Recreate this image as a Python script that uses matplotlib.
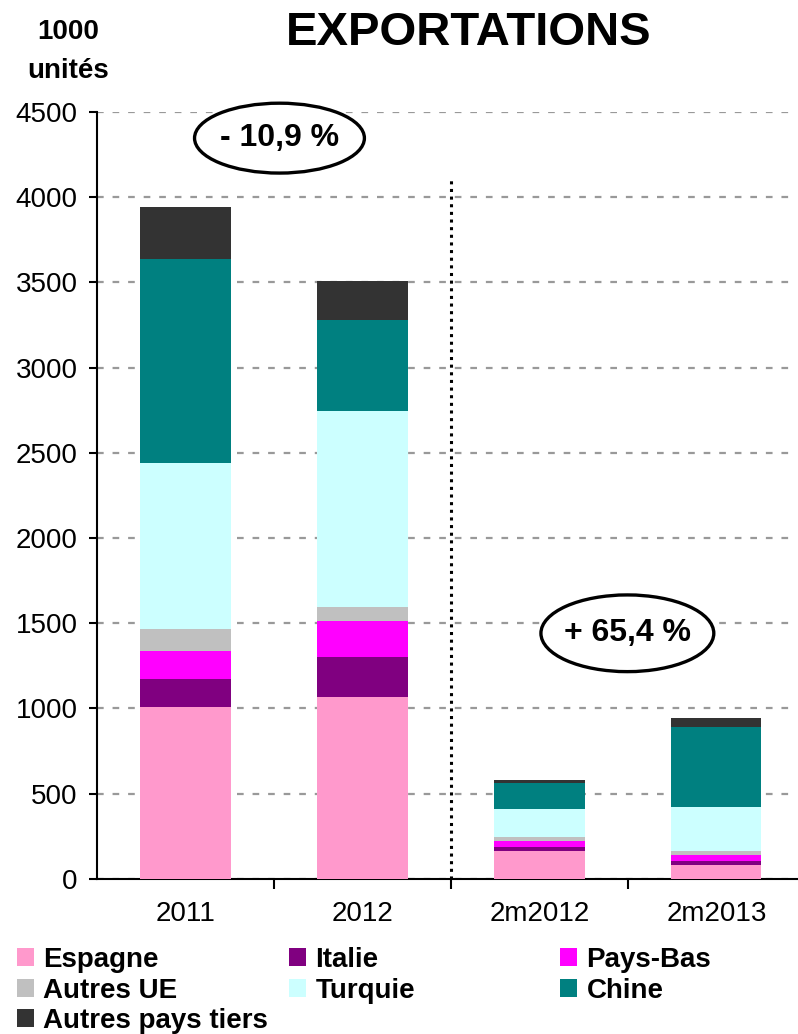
import matplotlib
matplotlib.use('agg')
import matplotlib.pyplot as plt
import numpy as np
from matplotlib.patches import Ellipse, Patch

plt.rcParams['font.family'] = ['Liberation Sans', 'DejaVu Sans']

periods = ["2011", "2012", "2m2012", "2m2013"]
countries = ["Espagne", "Italie", "Pays-Bas", "Autres UE", "Turquie", "Chine", "Autres pays tiers"]
colors = ["#ff99cc", "#800080", "#ff00ff", "#c0c0c0", "#ccffff", "#008080", "#333333"]

# thousands of units per destination, one list per period
exports_2011 = [1006, 166, 163, 129, 976, 1196, 305]
exports_2012 = [1065, 235, 211, 82, 1152, 534, 228]
exports_2m2012 = [161, 24, 36, 23, 164, 152, 18]
exports_2m2013 = [79, 24, 35, 23, 259, 469, 56]

change_year = "- 10,9 %"
change_2m = "+ 65,4 %"

table = np.array([exports_2011, exports_2012, exports_2m2012, exports_2m2013]).T

fig = plt.figure(figsize=(7.98, 10.34), dpi=100)
ax = fig.add_axes([0.1216, 0.150, 0.877, 0.7418])

x = np.arange(len(periods))
bottom = np.zeros(len(periods))
for name, vals, col in zip(countries, table, colors):
    ax.bar(x, vals, width=0.51, bottom=bottom, color=col, label=name, zorder=3)
    bottom += vals

ax.set_ylim(0, 4500)
ax.set_xlim(-0.5, 3.455)
ax.set_yticks(np.arange(0, 4501, 500))
ax.yaxis.grid(True, color="#999999", linestyle=(0, (3, 4)), linewidth=1.6, zorder=0)
ax.set_axisbelow(True)

ax.set_xticks(x)
ax.set_xticklabels(periods)
ax.set_xticks([0.5, 1.5, 2.5], minor=True)
ax.tick_params(axis='x', which='major', length=0, pad=16, labelsize=20)
ax.tick_params(axis='x', which='minor', length=7, width=1.5, direction='out')
ax.tick_params(axis='y', length=6, width=1.5, direction='out', labelsize=20, pad=8)

for side in ["top", "right"]:
    ax.spines[side].set_visible(False)
for side in ["left", "bottom"]:
    ax.spines[side].set_linewidth(1.5)

# separator between full years and two-month periods
ax.plot([1.5, 1.5], [0, 4110], color="black", linestyle=(0, (1, 1.5)), linewidth=2.2, zorder=4)

ax.add_patch(Ellipse((0.531, 4346), 0.96, 410, facecolor="white", edgecolor="black",
                     linewidth=2.4, clip_on=False, zorder=5))
ax.text(0.531, 4346, change_year, ha="center", va="center", fontsize=23, fontweight="bold", zorder=6)
ax.add_patch(Ellipse((2.497, 1441), 0.977, 450, facecolor="white", edgecolor="black",
                     linewidth=2.4, clip_on=False, zorder=5))
ax.text(2.497, 1441, change_2m, ha="center", va="center", fontsize=23, fontweight="bold", zorder=6)

fig.text(0.587, 0.968, "EXPORTATIONS", ha="center", va="center", fontsize=34, fontweight="bold")
fig.text(0.085, 0.969, "1000", ha="center", va="center", fontsize=20, fontweight="bold")
fig.text(0.085, 0.931, "unités", ha="center", va="center", fontsize=20, fontweight="bold")

# legend laid out as three columns, filled row by row
handles = [Patch(facecolor=c, edgecolor="none") for c in colors]
columns = [[0, 3, 6], [1, 4], [2, 5]]
col_x = [0.0213, 0.362, 0.702]
for idx, cx in zip(columns, col_x):
    fig.legend([handles[i] for i in idx], [countries[i] for i in idx],
               loc="upper left", bbox_to_anchor=(cx, 0.084), frameon=False,
               handlelength=0.62, handleheight=0.62, handletextpad=0.33,
               labelspacing=0.16, borderpad=0, borderaxespad=0,
               prop={"size": 20, "weight": "bold"})

fig.savefig("out.png", dpi=100)
